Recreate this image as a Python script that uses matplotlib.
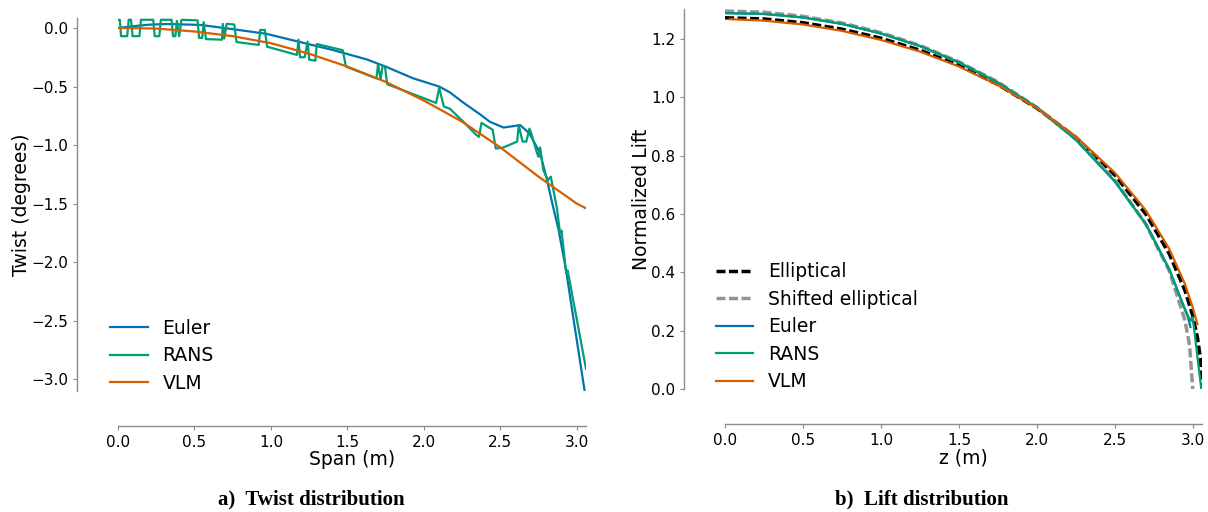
import matplotlib.pyplot as plt
import numpy as np

# colorblind palette
c_euler = '#0173b2'
c_rans = '#029e73'
c_vlm = '#d55e00'

# ---- twist distribution (span in m, twist in degrees) ----
euler_span = [0, 0.1, 0.2, 0.32, 0.54, 0.75, 0.97, 1.19, 1.41, 1.63, 1.75, 1.93,
              2.10, 2.17, 2.25, 2.37, 2.43, 2.52, 2.63, 2.69, 2.76, 2.80, 2.84,
              2.88, 2.93, 2.98, 3.05]
euler_twist = [0, 0.015, 0.028, 0.034, 0.026, -0.01, -0.05, -0.12, -0.19, -0.27,
               -0.33, -0.43, -0.50, -0.55, -0.63, -0.74, -0.80, -0.85, -0.83,
               -0.90, -1.07, -1.27, -1.50, -1.72, -2.07, -2.50, -3.09]

rans_span = [0.00, 0.012, 0.02, 0.06, 0.07, 0.085, 0.095, 0.14, 0.15, 0.23, 0.24,
             0.27, 0.28, 0.35, 0.36, 0.375, 0.385, 0.40, 0.415, 0.52, 0.53, 0.55,
             0.56, 0.575, 0.68, 0.685, 0.695, 0.71, 0.76, 0.775, 0.92, 0.93, 0.96,
             0.975, 1.17, 1.18, 1.19, 1.22, 1.24, 1.25, 1.29, 1.30, 1.47, 1.49,
             1.69, 1.70, 1.717, 1.73, 1.745, 1.76, 2.08, 2.10, 2.13, 2.17, 2.25,
             2.34, 2.36, 2.377, 2.45, 2.47, 2.52, 2.61, 2.62, 2.645, 2.67, 2.69,
             2.70, 2.74, 2.75, 2.76, 2.78, 2.81, 2.83, 2.87, 2.89, 2.90, 2.93,
             2.94, 3.06]
rans_twist = [0.07, 0.07, -0.07, -0.07, 0.07, 0.07, -0.07, -0.07, 0.07, 0.07, -0.07,
              -0.07, 0.07, 0.07, -0.07, -0.07, 0.06, -0.07, 0.07, 0.065, -0.085,
              -0.085, 0.05, -0.095, -0.10, 0.035, -0.09, 0.035, 0.03, -0.12,
              -0.145, -0.017, -0.017, -0.16, -0.23, -0.10, -0.25, -0.25, -0.117,
              -0.27, -0.28, -0.137, -0.19, -0.33, -0.43, -0.31, -0.44, -0.325,
              -0.325, -0.48, -0.64, -0.51, -0.67, -0.69, -0.79, -0.91, -0.93,
              -0.81, -0.87, -1.03, -1.02, -0.97, -0.83, -0.97, -0.97, -0.86,
              -0.89, -1.07, -1.10, -1.02, -1.21, -1.30, -1.27, -1.54, -1.75,
              -1.73, -2.09, -2.07, -2.91]

vlm_span = [0, 0.25, 0.5, 0.75, 1.0, 1.25, 1.5, 1.75, 2.0, 2.25, 2.5, 2.75, 3.0, 3.06]
vlm_twist = [0, -0.005, -0.03, -0.07, -0.13, -0.22, -0.33, -0.46, -0.62, -0.80,
             -1.02, -1.27, -1.50, -1.54]

# ---- lift distribution (z in m, normalized lift) ----
ell_z = [0, 0.25, 0.5, 0.75, 1.0, 1.25, 1.5, 1.75, 2.0, 2.25, 2.5, 2.7, 2.85,
         2.95, 3.0, 3.03, 3.05, 3.06]
ell_lift = [1.273, 1.269, 1.256, 1.234, 1.203, 1.162, 1.110, 1.044, 0.963, 0.863,
            0.734, 0.599, 0.463, 0.338, 0.251, 0.178, 0.103, 0.0]

shift_z = [0, 0.25, 0.5, 0.75, 1.0, 1.25, 1.5, 1.75, 2.0, 2.25, 2.5, 2.7, 2.85,
           2.95, 2.98, 3.0]
shift_lift = [1.296, 1.292, 1.278, 1.255, 1.222, 1.178, 1.122, 1.053, 0.966, 0.857,
              0.716, 0.565, 0.405, 0.236, 0.149, 0.0]

euler_z = [0, 0.25, 0.5, 0.75, 1.0, 1.25, 1.5, 1.75, 2.0, 2.25, 2.5, 2.7, 2.85,
           2.93, 2.97, 2.985]
euler_lift = [1.289, 1.286, 1.274, 1.252, 1.219, 1.176, 1.120, 1.051, 0.965, 0.855,
              0.712, 0.565, 0.410, 0.300, 0.245, 0.213]

rans_z = [0, 0.25, 0.5, 0.75, 1.0, 1.25, 1.5, 1.75, 2.0, 2.25, 2.5, 2.7, 2.85,
          2.93, 2.97, 2.99, 3.0, 3.055]
rans_lift = [1.289, 1.286, 1.274, 1.252, 1.219, 1.176, 1.120, 1.051, 0.965, 0.855,
             0.712, 0.565, 0.410, 0.300, 0.250, 0.234, 0.246, 0.0]

vlm_z = [0.03, 0.25, 0.5, 0.75, 1.0, 1.25, 1.5, 1.75, 2.0, 2.25, 2.5, 2.7, 2.85,
         2.95, 3.0, 3.03]
vlm_lift = [1.268, 1.263, 1.250, 1.228, 1.197, 1.157, 1.106, 1.042, 0.963, 0.866,
            0.742, 0.612, 0.480, 0.360, 0.280, 0.222]

fig = plt.figure(figsize=(12.08, 5.12), dpi=100)
ax1 = fig.add_axes([0.0977, 0.2363, 0.3874, 0.7285])
ax2 = fig.add_axes([0.6002, 0.2402, 0.3949, 0.7422])


def style_axes(ax):
    for side in ['top', 'right']:
        ax.spines[side].set_visible(False)
    for side in ['left', 'bottom']:
        ax.spines[side].set_color('#8c8c8c')
        ax.spines[side].set_linewidth(1.0)
    ax.spines['left'].set_position(('outward', 29.5))
    ax.spines['bottom'].set_position(('outward', 25.5))
    ax.tick_params(colors='#8c8c8c', labelcolor='black', labelsize=11, length=3)


lw = 1.6
ax1.plot(euler_span, euler_twist, color=c_euler, lw=lw, label='Euler')
ax1.plot(rans_span, rans_twist, color=c_rans, lw=lw, label='RANS')
ax1.plot(vlm_span, vlm_twist, color=c_vlm, lw=lw, label='VLM')
ax1.set_xlim(0, 3.06)
ax1.set_ylim(-3.1, 0.085)
ax1.set_xticks(np.arange(0, 3.01, 0.5))
ax1.set_yticks(np.arange(-3.0, 0.01, 0.5))
ax1.set_xlabel('Span (m)', fontsize=13.5, labelpad=0)
ax1.set_ylabel('Twist (degrees)', fontsize=13.5, labelpad=0)
style_axes(ax1)
ax1.legend(loc='lower left', bbox_to_anchor=(-0.053, -0.05), frameon=False,
           fontsize=13.5, labelspacing=0.45)

dash = (0, (2.6, 1.0))
ax2.plot(ell_z, ell_lift, color='black', lw=2.5, linestyle=dash, label='Elliptical')
ax2.plot(shift_z, shift_lift, color='#949494', lw=2.5, linestyle=dash,
         label='Shifted elliptical')
ax2.plot(euler_z, euler_lift, color=c_euler, lw=lw, label='Euler')
ax2.plot(rans_z, rans_lift, color=c_rans, lw=lw, label='RANS')
ax2.plot(vlm_z, vlm_lift, color=c_vlm, lw=lw, label='VLM')
ax2.set_xlim(0, 3.06)
ax2.set_ylim(0, 1.303)
ax2.set_xticks(np.arange(0, 3.01, 0.5))
ax2.set_yticks(np.arange(0, 1.21, 0.2))
ax2.set_xlabel('z (m)', fontsize=13.5, labelpad=0)
ax2.set_ylabel('Normalized Lift', fontsize=13.5, labelpad=0)
style_axes(ax2)
ax2.legend(loc='lower left', bbox_to_anchor=(-0.055, -0.05), frameon=False,
           fontsize=13.5, labelspacing=0.45)

fig.text(0.258, 0.025, 'a)  Twist distribution', ha='center', va='center',
         family='Liberation Serif', weight='bold', fontsize=15)
fig.text(0.763, 0.025, 'b)  Lift distribution', ha='center', va='center',
         family='Liberation Serif', weight='bold', fontsize=15)

fig.savefig('out.png', dpi=100)
